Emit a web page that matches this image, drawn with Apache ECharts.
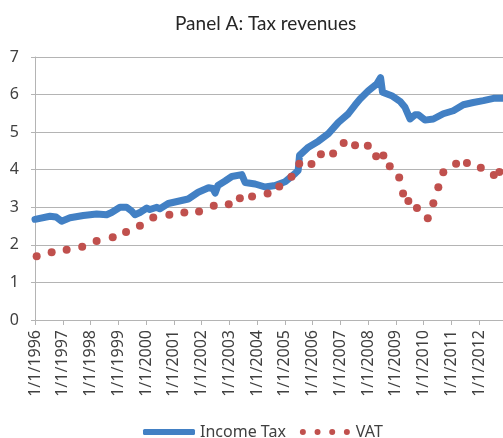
<!DOCTYPE html>
<html>
<head>
<meta charset="utf-8">
<title>Panel A: Tax revenues</title>
<script src="https://cdn.jsdelivr.net/npm/echarts@6/dist/echarts.min.js"></script>
<style>
  html, body { margin: 0; padding: 0; background: #fff; }
  #chart { width: 503px; height: 438px; }
</style>
</head>
<body>
<div id="chart"></div>
<script>
// Years on the x axis (ticks at 1 January of each year)
const tickYears = [1996, 1997, 1998, 1999, 2000, 2001, 2002, 2003, 2004, 2005, 2006, 2007, 2008, 2009, 2010, 2011, 2012];

// Income tax, [year, value]
const incomeTax = [
  [1996.00, 2.68], [1996.54, 2.76], [1996.76, 2.74], [1996.96, 2.63], [1997.26, 2.72],
  [1997.74, 2.78], [1998.22, 2.82], [1998.58, 2.80], [1998.76, 2.86], [1999.06, 3.00],
  [1999.30, 3.00], [1999.48, 2.90], [1999.60, 2.80], [1999.78, 2.86], [2000.03, 2.98],
  [2000.14, 2.94], [2000.39, 3.00], [2000.50, 2.96], [2000.80, 3.10], [2001.16, 3.16],
  [2001.52, 3.22], [2001.88, 3.40], [2002.25, 3.52], [2002.41, 3.50], [2002.49, 3.38],
  [2002.59, 3.58], [2002.85, 3.70], [2003.09, 3.82], [2003.45, 3.87], [2003.57, 3.66],
  [2003.93, 3.62], [2004.29, 3.54], [2004.65, 3.58], [2005.01, 3.68], [2005.37, 3.90],
  [2005.48, 3.98], [2005.53, 4.38], [2005.85, 4.60], [2006.21, 4.76], [2006.57, 4.96],
  [2006.93, 5.26], [2007.29, 5.49], [2007.53, 5.72], [2007.71, 5.88], [2008.01, 6.10],
  [2008.31, 6.28], [2008.45, 6.45], [2008.52, 6.06], [2008.85, 5.97], [2009.15, 5.82],
  [2009.33, 5.66], [2009.51, 5.35], [2009.69, 5.46], [2009.81, 5.46], [2010.05, 5.32],
  [2010.35, 5.35], [2010.71, 5.49], [2011.07, 5.57], [2011.43, 5.73], [2011.79, 5.79],
  [2012.15, 5.84], [2012.52, 5.90], [2012.86, 5.90]
];

// VAT, [year, value]
const vat = [
  [1996.06, 1.70], [1996.60, 1.80], [1997.14, 1.87], [1997.70, 1.95], [1998.22, 2.10],
  [1998.80, 2.20], [1999.28, 2.34], [1999.78, 2.51], [2000.26, 2.73], [2000.84, 2.80],
  [2001.38, 2.86], [2001.91, 2.89], [2002.44, 3.04], [2002.98, 3.08], [2003.38, 3.24],
  [2003.82, 3.29], [2004.38, 3.37], [2004.80, 3.55], [2005.24, 3.81], [2005.52, 4.16],
  [2005.96, 4.15], [2006.30, 4.41], [2006.74, 4.43], [2007.12, 4.71], [2007.53, 4.65],
  [2007.99, 4.64], [2008.29, 4.36], [2008.55, 4.38], [2008.78, 4.09], [2009.12, 3.79],
  [2009.26, 3.37], [2009.45, 3.17], [2009.76, 2.98], [2010.15, 2.71], [2010.35, 3.11],
  [2010.53, 3.53], [2010.71, 3.93], [2011.17, 4.16], [2011.56, 4.18], [2012.06, 4.05],
  [2012.53, 3.86], [2012.73, 3.94]
];

const BLUE = '#4280c4';
const RED = '#c0504d';
const GRID = '#b4b4b4';
const TEXT = '#404040';
const FONT = 'Noto Sans';

// four dots for the VAT legend key
const dotsIcon = 'path://M0,3a3,3 0 1,0 6,0a3,3 0 1,0 -6,0z' +
  'M14.67,3a3,3 0 1,0 6,0a3,3 0 1,0 -6,0z' +
  'M29.33,3a3,3 0 1,0 6,0a3,3 0 1,0 -6,0z' +
  'M44,3a3,3 0 1,0 6,0a3,3 0 1,0 -6,0z';

const chart = echarts.init(document.getElementById('chart'));

const option = {
  backgroundColor: '#fff',
  animation: false,
  title: {
    text: 'Panel A: Tax revenues',
    left: 170,
    top: 9,
    textStyle: { fontFamily: 'Lato', fontSize: 19, fontWeight: 'normal', color: '#262626' }
  },
  grid: { left: 35, right: 0, top: 57, bottom: 118, containLabel: false },
  legend: {
    left: 138,
    top: 419,
    itemWidth: 52,
    itemHeight: 6,
    itemGap: 14,
    textStyle: { fontFamily: FONT, fontSize: 16, color: TEXT },
    data: [
      { name: 'Income Tax', icon: 'roundRect' },
      { name: 'VAT', icon: dotsIcon }
    ]
  },
  xAxis: {
    type: 'value',
    min: tickYears[0],
    max: 2012.86,
    interval: 1,
    axisLine: { show: true, lineStyle: { color: GRID, width: 1 } },
    axisTick: { show: true, length: 5, lineStyle: { color: GRID } },
    splitLine: { show: false },
    axisLabel: {
      rotate: 90,
      margin: 10,
      showMaxLabel: false,
      color: TEXT,
      fontFamily: FONT,
      fontSize: 16,
      formatter: v => tickYears.includes(v) ? '1/1/' + v : ''
    }
  },
  yAxis: {
    type: 'value',
    min: 0,
    max: 7,
    interval: 1,
    axisLine: { show: true, lineStyle: { color: GRID, width: 1 } },
    axisTick: { show: true, length: 4, lineStyle: { color: GRID } },
    splitLine: { show: true, lineStyle: { color: GRID, width: 1 } },
    axisLabel: { margin: 16, color: TEXT, fontFamily: FONT, fontSize: 16 }
  },
  series: [
    {
      name: 'Income Tax',
      type: 'line',
      data: incomeTax,
      symbol: 'none',
      color: BLUE,
      lineStyle: { color: BLUE, width: 7, cap: 'round', join: 'round' },
      z: 3
    },
    {
      name: 'VAT',
      type: 'scatter',
      data: vat,
      symbolSize: 8,
      itemStyle: { color: RED, opacity: 1 },
      z: 4
    }
  ]
};

chart.setOption(option);
</script>
</body>
</html>
